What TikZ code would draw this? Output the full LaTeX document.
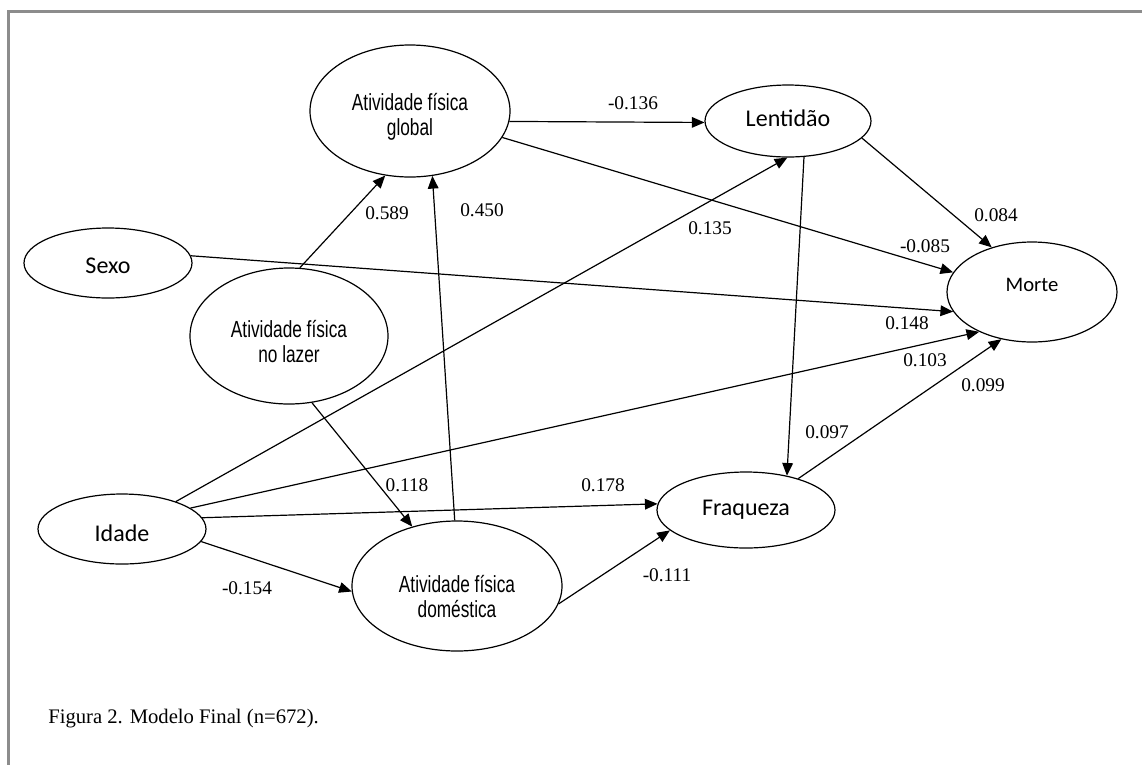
\documentclass[tikz,border=0pt]{standalone}
\usepackage{fontspec}
\setmainfont{Liberation Serif}
\newfontfamily\narrowsans[FakeStretch=0.74]{Liberation Sans}
\newfontfamily\calib{Carlito}
\usetikzlibrary{shapes.geometric,arrows.meta}
\definecolor{framegray}{HTML}{8C8C8C}
\begin{document}
\begin{tikzpicture}[x=0.75pt,y=-0.75pt,
  var/.style={draw, ellipse, line width=0.9pt, inner sep=0pt},
  conn/.style={-{Triangle[length=9.5pt,width=8pt]}, line width=0.9pt},
  coef/.style={font=\fontsize{14.5}{16}\selectfont, inner sep=0pt},
  afs/.style={font=\narrowsans\fontsize{17.5}{19}\selectfont, align=center, inner sep=0pt},
  cal/.style={font=\calib\fontsize{18}{20}\selectfont, inner sep=0pt},
  capt/.style={font=\fontsize{15.5}{18}\selectfont, inner sep=0pt, anchor=west}]
\useasboundingbox (0,0) rectangle (1142,765);
\fill[white] (0,0) rectangle (1142,765);
% frame
\draw[framegray, line width=2.2pt] (1142,11.5) -- (8.5,11.5) -- (8.5,765);

% variables
\node[var, minimum width=150pt, minimum height=99pt,
  label={[afs, yshift=-4.5pt]center:Atividade física\\global}] (glob) at (410,111) {};
\node[var, minimum width=124.5pt, minimum height=54pt,
  label={[cal, yshift=2pt]center:Lentidão}] (lent) at (788,121) {};
\node[var, minimum width=127.5pt, minimum height=75pt,
  label={[cal, font=\calib\fontsize{15.5}{18}\selectfont, yshift=5pt]center:Morte}] (morte) at (1032,292) {};
\node[var, minimum width=126pt, minimum height=52.5pt,
  label={[cal, yshift=-2pt]center:Sexo}] (sexo) at (108,263) {};
\node[var, minimum width=148.5pt, minimum height=102pt,
  label={[afs, yshift=-4pt]center:Atividade física\\no lazer}] (lazer) at (289,336) {};
\node[var, minimum width=126pt, minimum height=52.5pt,
  label={[cal, yshift=-3pt]center:Idade}] (idade) at (122,529) {};
\node[var, minimum width=157.5pt, minimum height=97.5pt,
  label={[afs, yshift=-8pt]center:Atividade física\\doméstica}] (dom) at (457,586) {};
\node[var, minimum width=133.5pt, minimum height=57pt,
  label={[cal]center:Fraqueza}] (fraq) at (746,510) {};

% connectors
\draw[conn] (lazer.81) -- (glob.-111.5);
\draw[conn] (dom.92.7) -- (glob.-71.6);
\draw[conn] (glob.-6.8) -- (lent.181.4);
\draw[conn] (glob.-16.2) -- (morte.166.6);
\draw[conn] (lent.-13.7) -- (morte.132);
\draw[conn] (lent.-66) -- (fraq.40);
\draw[conn] (idade.27) -- (lent.-91.7);
\draw[conn] (sexo.5.4) -- (morte.194.9);
\draw[conn] (idade.17.4) -- (morte.217);
\draw[conn] (fraq.31.5) -- (morte.237.4);
\draw[conn] (idade.8.5) -- (fraq.176.8);
\draw[conn] (lazer.-71) -- (dom.127.6);
\draw[conn] (idade.-9.7) -- (dom.183.8);
\draw[conn] (dom.-10) -- (fraq.195);

% coefficients
\node[coef] (c589) at (387,213) {0.589};
\node[coef] (c450) at (482,210) {0.450};
\node[coef] (c136) at (633,103) {-0.136};
\node[coef] (c085) at (925,246) {-0.085};
\node[coef] (c084) at (996,215) {0.084};
\node[coef] (c097) at (827,432) {0.097};
\node[coef] (c135) at (710,228) {0.135};
\node[coef] (c148) at (907,323) {0.148};
\node[coef] (c103) at (925,360) {0.103};
\node[coef] (c099) at (983,385) {0.099};
\node[coef] (c178) at (603,485) {0.178};
\node[coef] (c118) at (407,485) {0.118};
\node[coef] (c154) at (247,588) {-0.154};
\node[coef] (c111) at (667,575) {-0.111};

% caption
\node[capt] (cap) at (48,719) {Figura 2. Modelo Final (n=672).};
\end{tikzpicture}
\end{document}
